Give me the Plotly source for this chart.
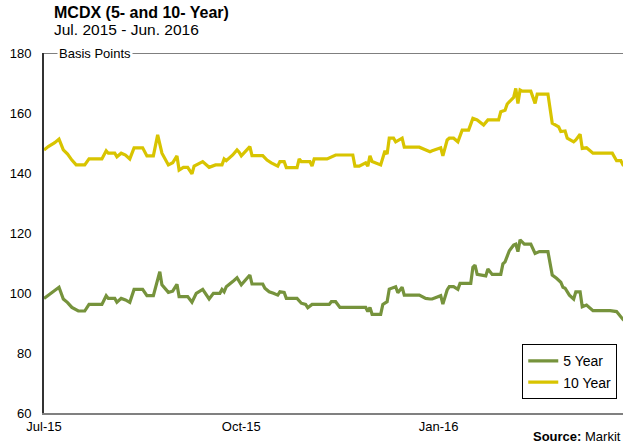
import pandas as pd
import plotly.graph_objects as go

START = pd.Timestamp("2015-07-01")

# day offsets from 1 Jul 2015 and values (basis points)
days_5y = [0, 2, 5, 7, 9, 11, 13, 16, 19, 21, 27, 29, 30, 33, 34, 36, 38, 40, 42, 46,
           48, 51, 54, 55, 58, 60, 62, 63, 67, 69, 71, 74, 77, 79, 82, 83, 84, 85, 88, 90,
           92, 96, 97, 102, 103, 105, 107, 109, 110, 112, 113, 118, 120, 122, 123, 125, 133, 134, 136, 138,
           150, 151, 152, 153, 157, 158, 160, 161, 164, 165, 167, 168, 175, 178, 180, 181, 185, 186, 188, 189,
           191, 193, 194, 199, 200, 201, 202, 206, 207, 209, 213, 214, 215, 217, 219, 220, 221, 222, 224, 227,
           229, 231, 235, 237, 239, 241, 242, 243, 245, 247, 248, 250, 251, 253, 256, 264, 267, 270, 272]
vals_5y = [98.2, 99.3, 101.0, 101.9, 98.0, 96.8, 95.2, 94.0, 94.0, 96.2, 96.2, 99.1, 98.2, 98.2, 96.9, 98.2, 97.7, 96.9, 101.2, 101.2,
           99.1, 99.1, 107.1, 102.7, 100.2, 100.6, 102.9, 98.8, 98.8, 96.9, 99.9, 101.2, 98.0, 99.9, 99.9, 101.2, 100.4, 102.1, 103.8, 105.1,
           102.7, 106.0, 103.0, 103.0, 101.6, 100.4, 99.9, 99.3, 100.4, 100.2, 98.2, 98.2, 96.6, 96.2, 95.1, 96.2, 96.2, 97.1, 97.1, 95.2,
           95.2, 93.8, 95.2, 92.9, 92.9, 96.2, 97.1, 101.3, 102.1, 100.1, 101.9, 99.3, 99.3, 98.2, 98.0, 98.0, 99.1, 96.3, 101.0, 102.1,
           102.1, 101.2, 103.2, 103.2, 108.6, 109.3, 106.2, 105.7, 108.0, 106.2, 106.2, 109.7, 110.4, 114.1, 116.0, 116.3, 113.8, 117.7, 116.3, 116.3,
           113.2, 113.8, 113.8, 106.0, 104.9, 103.6, 101.9, 101.6, 99.3, 98.0, 100.4, 100.4, 95.4, 96.0, 94.1, 94.1, 93.8, 91.2, 90.0]

days_10y = [0, 2, 5, 6, 7, 9, 11, 13, 15, 19, 21, 27, 29, 30, 33, 34, 36, 38, 40, 42,
            46, 48, 51, 53, 55, 58, 60, 62, 63, 65, 67, 69, 70, 74, 77, 80, 83, 84, 85, 88,
            90, 91, 92, 96, 97, 102, 104, 106, 109, 110, 112, 113, 118, 119, 120, 124, 125, 126, 132, 136,
            144, 145, 147, 150, 151, 152, 153, 157, 159, 160, 161, 163, 164, 167, 168, 175, 177, 180, 181, 185,
            186, 188, 189, 191, 193, 195, 198, 200, 202, 205, 207, 212, 213, 215, 216, 219, 220, 221, 222, 223,
            227, 229, 230, 235, 237, 240, 241, 243, 244, 247, 248, 250, 251, 253, 256, 265, 267, 269, 270, 272]
vals_10y = [147.7, 148.8, 150.1, 150.7, 151.3, 147.7, 146.3, 144.3, 142.7, 142.7, 144.7, 144.7, 147.4, 146.6, 146.6, 145.4, 146.6, 146.0, 144.7, 148.4,
            148.4, 145.7, 145.7, 152.7, 146.6, 142.7, 143.4, 145.7, 141.0, 141.9, 141.9, 139.7, 142.3, 143.8, 141.9, 142.7, 142.7, 144.7, 144.1, 146.0,
            147.7, 146.9, 145.7, 148.8, 145.8, 145.8, 144.3, 143.4, 142.3, 143.8, 143.8, 141.8, 141.8, 144.7, 143.8, 143.8, 142.3, 144.7, 144.7, 146.0,
            146.0, 142.3, 142.3, 143.4, 142.3, 145.7, 143.8, 142.7, 147.4, 146.3, 151.6, 151.6, 150.4, 151.6, 148.6, 148.6, 147.9, 147.1, 147.4, 148.4,
            145.7, 151.0, 151.6, 151.6, 150.4, 154.3, 154.3, 158.2, 157.7, 156.0, 157.7, 157.7, 160.4, 160.9, 163.0, 165.2, 168.2, 163.2, 167.7, 167.3,
            167.3, 163.2, 166.3, 166.3, 156.6, 155.4, 153.8, 154.0, 151.6, 150.4, 151.0, 152.9, 148.2, 148.4, 146.6, 146.6, 144.1, 144.1, 142.7, 142.7]

tick_dates = ["2015-07-01", "2015-10-01", "2016-01-01"]
tick_labels = ["Jul-15", "Oct-15", "Jan-16"]

GREEN = "#76933C"
YELLOW = "#D8C400"
FONT = "Liberation Sans, Arial, sans-serif"


def to_dates(days):
    return START + pd.to_timedelta(days, unit="D")


fig = go.Figure()
fig.add_trace(go.Scatter(x=to_dates(days_5y), y=vals_5y, mode="lines", name="5 Year",
                         line=dict(color=GREEN, width=3.2)))
fig.add_trace(go.Scatter(x=to_dates(days_10y), y=vals_10y, mode="lines", name="10 Year",
                         line=dict(color=YELLOW, width=3.2)))

# top frame line, interrupted by the units label
fig.add_shape(type="line", xref="paper", yref="y", x0=0, x1=1, y0=180, y1=180,
              line=dict(color="#000000", width=1))

fig.add_annotation(text="Basis Points", xref="paper", yref="y", x=0.022, y=180,
                   xanchor="left", yanchor="middle", showarrow=False, bgcolor="white",
                   borderpad=1, font=dict(family=FONT, size=13, color="#000000"))
fig.add_annotation(text="<b>MCDX (5- and 10- Year)</b>", xref="paper", yref="paper",
                   x=0.014, y=1.112, xanchor="left", yanchor="middle", showarrow=False,
                   font=dict(family=FONT, size=16, color="#000000"))
fig.add_annotation(text="Jul. 2015 - Jun. 2016", xref="paper", yref="paper",
                   x=0.014, y=1.064, xanchor="left", yanchor="middle", showarrow=False,
                   font=dict(family=FONT, size=15.5, color="#000000"))
fig.add_annotation(text="<b>Source:</b> Markit", xref="paper", yref="paper",
                   x=1, y=-0.066, xanchor="right", yanchor="middle", showarrow=False,
                   font=dict(family=FONT, size=13, color="#000000"))

fig.update_layout(
    width=623, height=446,
    margin=dict(l=44, r=0, t=53, b=33),
    paper_bgcolor="white", plot_bgcolor="white",
    font=dict(family=FONT, size=13, color="#000000"),
    showlegend=True,
    legend=dict(x=0.826, y=0.191, xanchor="left", yanchor="top",
                bgcolor="white", bordercolor="#000000", borderwidth=1,
                font=dict(family=FONT, size=14), itemwidth=30,
                tracegroupgap=0, traceorder="normal"),
    xaxis=dict(range=["2015-07-01", "2016-03-27"], tickvals=tick_dates, ticktext=tick_labels,
               showgrid=False, zeroline=False, showline=True, linecolor="#808080", linewidth=2,
               ticks="", ticklen=0),
    yaxis=dict(range=[60, 180], dtick=20, tick0=60, showgrid=False, zeroline=False,
               showline=True, linecolor="#333333", linewidth=2,
               ticks="outside", ticklen=8, tickcolor="rgba(0,0,0,0)"),
)

# page has a default body margin; drop it so the figure sits at the window origin
fig.write_html("out.html", config={"displayModeBar": False},
               post_script="document.body.style.margin='0';document.body.style.overflow='hidden';")
